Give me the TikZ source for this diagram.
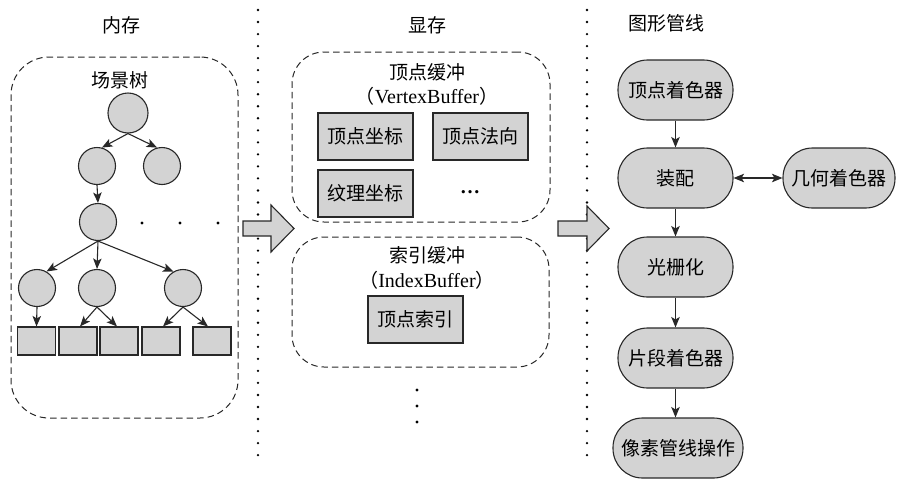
\documentclass[tikz,border=0pt]{standalone}
\usepackage{fontspec}
\setmainfont{Liberation Serif}
\newfontfamily\cjk{Noto Sans CJK SC}
\usetikzlibrary{arrows.meta}
\definecolor{boxfill}{RGB}{211,211,211}
\definecolor{edgec}{RGB}{40,40,40}
\newcommand\zhf{\cjk\fontsize{19}{23}\selectfont}
\newcommand\enf{\fontsize{20}{24}\selectfont}
\begin{document}
\begin{tikzpicture}[x=1pt,y=-1pt,
  tnode/.style={circle, draw=edgec, fill=boxfill, line width=1.1pt, minimum size=37pt, inner sep=0pt},
  leaf/.style={rectangle, draw=edgec, fill=boxfill, line width=1.1pt, minimum width=38pt, minimum height=28pt, inner sep=0pt},
  tarrow/.style={line width=1.1pt, draw=edgec, arrows={-Stealth[length=10.5pt,width=8.5pt,inset=2.5pt]}},
  darrow/.style={line width=1.1pt, draw=edgec, arrows={Stealth[length=10.5pt,width=8.5pt,inset=2.5pt]-Stealth[length=10.5pt,width=8.5pt,inset=2.5pt]}},
  group/.style={draw=edgec, dash pattern=on 6.5pt off 4pt, line width=1pt, rectangle, inner sep=0pt},
  membox/.style={rectangle, draw=edgec, fill=boxfill, line width=1.1pt, minimum width=95pt, minimum height=47pt, inner sep=0pt, font=\zhf},
  stage/.style={rectangle, rounded corners=29.5pt, draw=edgec, fill=boxfill, line width=1.1pt, minimum width=115pt, minimum height=60pt, inner sep=0pt, font=\zhf},
  lab/.style={font=\zhf, inner sep=0pt},
  sepline/.style={line width=2.6pt, line cap=round, dash pattern=on 0pt off 12.03pt, draw=black},
  block/.style={draw=edgec, fill=boxfill, line width=1.1pt, line join=miter},
  dotmark/.style={fill=black}
]
\useasboundingbox (0,0) rectangle (898,480);

% separators
\draw[sepline] (258,10) -- (258,455.2);
\draw[sepline] (587,10) -- (587,455.2);

% titles
\node[lab] (t1) at (121,25) {内存};
\node[lab] (t2) at (427,25) {显存};
\node[lab] (t3) at (666,23) {图形管线};

% memory group
\node[group, rounded corners=38pt, minimum width=227pt, minimum height=361pt] (mem) at (124.5,237.5) {};
\node[lab] (scene) at (120,80) {场景树};
\node[tnode, minimum size=40pt] (root) at (128,113) {};
\node[tnode] (a) at (97,166) {};
\node[tnode] (b) at (162,166) {};
\node[tnode] (c) at (98,222) {};
\node[tnode] (d) at (37,288) {};
\node[tnode] (e) at (97,288) {};
\node[tnode] (f) at (183,288) {};
\node[leaf] (s1) at (36.5,341) {};
\node[leaf] (s2) at (78,341) {};
\node[leaf] (s3) at (119,341) {};
\node[leaf] (s4) at (161,341) {};
\node[leaf] (s5) at (212,341) {};
\draw[tarrow] (root.south) -- (a.75);
\draw[tarrow] (root.south) -- (b.105);
\draw[tarrow] (a.south) -- (c.north);
\draw[tarrow] (c.south) -- (d.60);
\draw[tarrow] (c.south) -- (e.north);
\draw[tarrow] (c.south) -- (f.120);
\draw[tarrow] (d.south) -- (s1.north);
\draw[tarrow] (e.south) -- ([xshift=2pt]s2.north);
\draw[tarrow] (e.south) -- ([xshift=-2pt]s3.north);
\draw[tarrow] (f.south) -- ([xshift=2pt]s4.north);
\draw[tarrow] (f.south) -- ([xshift=-4pt]s5.north);
\fill[dotmark] (142,223) circle (1.6pt);
\fill[dotmark] (180,223) circle (1.6pt);
\fill[dotmark] (218,223) circle (1.6pt);

% vertex buffer group
\node[group, rounded corners=32pt, minimum width=258pt, minimum height=170pt] (vb) at (421,137) {};
\node[lab] (vbt) at (427,72) {顶点缓冲};
\node[lab, font=\enf] (vbe) at (427,96) {{\zhf （}VertexBuffer{\zhf ）}};
\node[membox] (pos) at (365.5,136.5) {顶点坐标};
\node[membox] (nrm) at (480.5,136.5) {顶点法向};
\node[membox] (tex) at (365.5,193.5) {纹理坐标};
\node[lab, font=\enf\bfseries] (more) at (470,192) {…};

% index buffer group
\node[group, rounded corners=32pt, minimum width=257pt, minimum height=130pt] (ib) at (420.5,302) {};
\node[lab] (ibt) at (427,255) {索引缓冲};
\node[lab, font=\enf] (ibe) at (427,280) {{\zhf （}IndexBuffer{\zhf ）}};
\node[membox] (idx) at (415.5,319.5) {顶点索引};
\fill[dotmark] (417,390) circle (1.6pt);
\fill[dotmark] (417,406) circle (1.6pt);
\fill[dotmark] (417,422) circle (1.6pt);

% block arrows
\draw[block] (243,221) -- (271,221) -- (271,205) -- (294,228.5) -- (271,252) -- (271,236) -- (243,236) -- cycle;
\draw[block] (558,221) -- (587,221) -- (587,206) -- (609,228.5) -- (587,251) -- (587,236) -- (558,236) -- cycle;

% pipeline
\node[stage] (vs) at (675.5,90) {顶点着色器};
\node[stage] (asm) at (675.5,178) {装配};
\node[stage, minimum width=112pt] (geo) at (839,178) {几何着色器};
\node[stage] (ras) at (675.5,267) {光栅化};
\node[stage] (frag) at (675.5,358) {片段着色器};
\node[stage, minimum width=130pt] (pix) at (678,448) {像素管线操作};
\draw[tarrow] (vs) -- (asm);
\draw[tarrow] (asm) -- (ras);
\draw[tarrow] (ras) -- (frag);
\draw[tarrow] (frag.south) -- (frag.south |- pix.north);
\draw[darrow] (asm) -- (geo);
\end{tikzpicture}
\end{document}
